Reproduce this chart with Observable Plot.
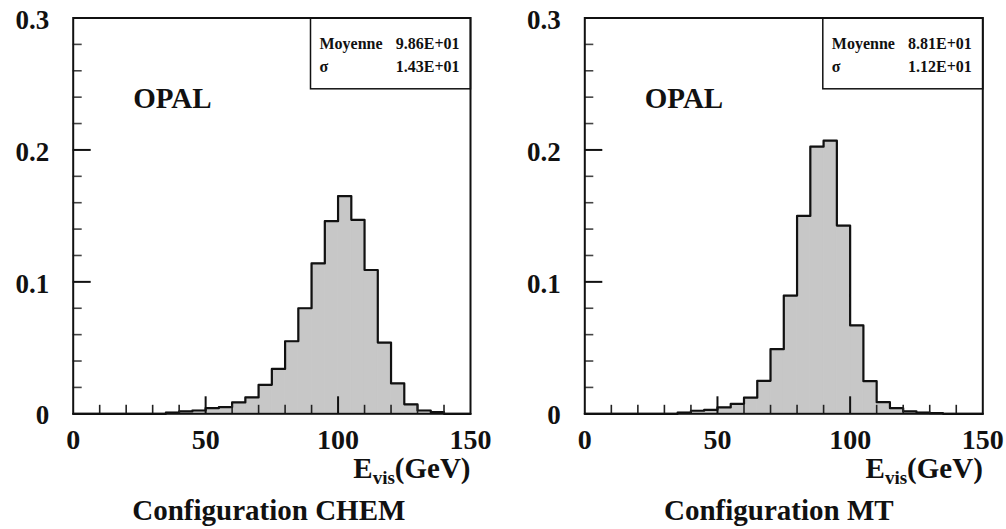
<!DOCTYPE html>
<html><head><meta charset="utf-8">
<script src="https://cdn.jsdelivr.net/npm/d3@7"></script>
<script src="https://cdn.jsdelivr.net/npm/@observablehq/plot@0.6"></script>
<style>
body{margin:0;background:#fff}
#wrap{display:flex;width:1006px;height:529px;background:#fff}
#wrap svg{overflow:visible}
#wrap svg, #wrap svg text{font-family:"Liberation Serif","Times New Roman",serif !important}
</style>
</head><body><div id="wrap"></div>
<script>
// ---- data ----
const binWidth = 5; // GeV
const chemBinStarts = [35,40,45,50,55,60,65,70,75,80,85,90,95,100,105,110,115,120,125,130,135];
const chemValues = [0.001,0.0018,0.0025,0.0043,0.005,0.0086,0.0124,0.022,0.034,0.055,0.080,0.114,0.146,0.165,0.147,0.109,0.054,0.023,0.0072,0.0025,0.0012];
const mtBinStarts = [35,40,45,50,55,60,65,70,75,80,85,90,95,100,105,110,115,120,125,130];
const mtValues = [0.001,0.0023,0.003,0.0048,0.0075,0.0122,0.025,0.049,0.0896,0.150,0.2025,0.207,0.1427,0.067,0.0247,0.0088,0.0043,0.0018,0.001,0.0005];
const xTickLabels = [0,50,100,150];
const xMajorTicks = [50,100];
const xMinorTicks = [10,20,30,40,60,70,80,90,110,120,130,140];
const yTickLabels = [0,0.1,0.2,0.3];
const yMajorTicks = [0.1,0.2];
const yMinorTicks = [0.02,0.04,0.06,0.08,0.12,0.14,0.16,0.18,0.22,0.24,0.26,0.28];
const captions = ["Configuration CHEM","Configuration MT"];
const means = ["9.86E+01","8.81E+01"];
const sigmas = ["1.43E+01","1.12E+01"];
const detector = "OPAL";

// ---- layout ----
const W = 503, H = 529, mTop = 17.5, mBottom = 115.7;
const layouts = [
  {marginLeft: 72.7, marginRight: 33, captionDx: -3},
  {marginLeft: 81.3, marginRight: 23.7, captionDx: -5}
];
const series = [
  {starts: chemBinStarts, values: chemValues},
  {starts: mtBinStarts, values: mtValues}
];
const FONT = "'Liberation Serif', 'Times New Roman', serif";
const ctx = document.createElement("canvas").getContext("2d");
function tw(text, size){ ctx.font = `bold ${size}px ${FONT}`; return ctx.measureText(text).width; }

const wrap = document.getElementById("wrap");
series.forEach((s, i) => {
  const L = layouts[i];
  const plotW = W - L.marginLeft - L.marginRight;
  const plotH = H - mTop - mBottom;
  const xPerPx = 150 / plotW, yPerPx = 0.3 / plotH;
  const bins = s.starts.map((x0, j) => ({x0, x1: x0 + binWidth, v: s.values[j]}));
  const last = bins[bins.length - 1];
  const outline = [{x: 0, y: 0}, ...bins.map(b => ({x: b.x0, y: b.v})), {x: last.x1, y: last.v}, {x: last.x1, y: 0}, {x: 150, y: 0}];
  const eSize = 29, subSize = 19;
  const wGeV = tw("(GeV)", eSize), wVis = tw("vis", subSize);
  const statFont = 16;
  const T = {fontFamily: FONT, fontWeight: "bold"};
  const chart = Plot.plot({
    width: W, height: H,
    marginLeft: L.marginLeft, marginRight: L.marginRight, marginTop: mTop, marginBottom: mBottom,
    x: {domain: [0, 150]},
    y: {domain: [0, 0.3]},
    style: {fontFamily: FONT, background: "white", color: "#111"},
    marks: [
      Plot.rectY(bins, {x1: "x0", x2: "x1", y: "v", fill: "#c7c7c7", stroke: "#c7c7c7", strokeWidth: 0.8}),
      Plot.line(outline, {x: "x", y: "y", curve: "step-after", stroke: "#111", strokeWidth: 2.2}),
      Plot.ruleX(xMinorTicks, {x: d => d, y1: 0, y2: 8.5 * yPerPx, stroke: "#222", strokeWidth: 1.6}),
      Plot.ruleX(xMajorTicks, {x: d => d, y1: 0, y2: 17 * yPerPx, stroke: "#111", strokeWidth: 2}),
      Plot.ruleY(yMinorTicks, {y: d => d, x1: 0, x2: 9 * xPerPx, stroke: "#444", strokeWidth: 1.6}),
      Plot.ruleY(yMajorTicks, {y: d => d, x1: 0, x2: 18 * xPerPx, stroke: "#111", strokeWidth: 2}),
      Plot.frame({stroke: "#111", strokeWidth: 2}),
      Plot.frame({stroke: "#111", strokeWidth: 1.5, insetLeft: plotW - 160, insetBottom: plotH - 70.8}),
      Plot.axisX({ticks: xTickLabels, tickSize: 0, tickPadding: 15, fontSize: 28, ...T, label: null, tickFormat: d => String(d)}),
      Plot.axisY({ticks: yTickLabels, tickSize: 0, tickPadding: 24, fontSize: 27, ...T, label: null, dy: 2, tickFormat: d => d === 0 ? "0" : d.toFixed(1)}),
      Plot.text([detector], {frameAnchor: "top-left", textAnchor: "start", lineAnchor: "top", dx: 60, dy: 69, fontSize: 29, ...T}),
      Plot.text(["Moyenne"], {frameAnchor: "top-right", textAnchor: "start", lineAnchor: "top", dx: -151, dy: 19.4, fontSize: statFont, ...T}),
      Plot.text([means[i]], {frameAnchor: "top-right", textAnchor: "end", lineAnchor: "top", dx: -11, dy: 19.4, fontSize: statFont, ...T}),
      Plot.text(["σ"], {frameAnchor: "top-right", textAnchor: "start", lineAnchor: "top", dx: -151, dy: 42.8, fontSize: statFont, ...T}),
      Plot.text([sigmas[i]], {frameAnchor: "top-right", textAnchor: "end", lineAnchor: "top", dx: -11, dy: 42.8, fontSize: statFont, ...T}),
      Plot.text(["(GeV)"], {frameAnchor: "bottom-right", textAnchor: "end", lineAnchor: "top", dx: 0, dy: 43.5, fontSize: eSize, ...T}),
      Plot.text(["vis"], {frameAnchor: "bottom-right", textAnchor: "end", lineAnchor: "top", dx: -wGeV, dy: 57, fontSize: subSize, ...T}),
      Plot.text(["E"], {frameAnchor: "bottom-right", textAnchor: "end", lineAnchor: "top", dx: -wGeV - wVis, dy: 43.5, fontSize: eSize, ...T}),
      Plot.text([captions[i]], {frameAnchor: "bottom", textAnchor: "middle", lineAnchor: "top", dx: L.captionDx, dy: 85.4, fontSize: 29, ...T})
    ]
  });
  wrap.appendChild(chart);
});
</script>
</body></html>
